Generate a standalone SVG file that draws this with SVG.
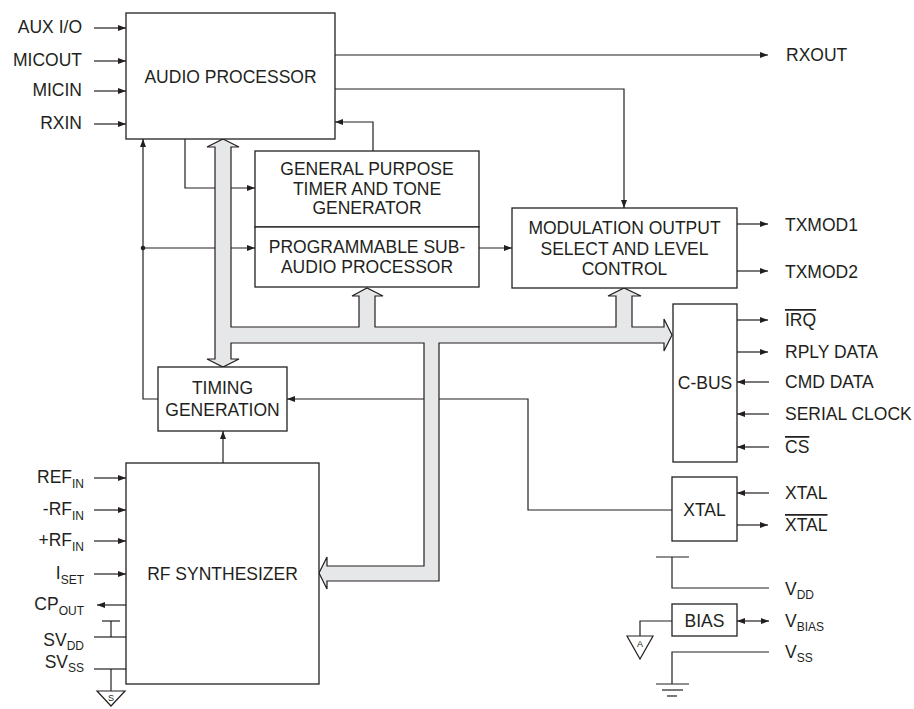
<svg xmlns="http://www.w3.org/2000/svg" width="914" height="709" viewBox="0 0 914 709">
<defs>
<style>
text{font-family:"Liberation Sans",Arial,Helvetica,sans-serif;font-size:17.5px;fill:#231f20}
.c{text-anchor:middle}
.e{text-anchor:end}
.sub{font-size:12px}
.tiny{font-size:9px}
.box{fill:#fff;stroke:#231f20;stroke-width:1.3}
.ln{fill:none;stroke:#231f20;stroke-width:1.2}
.arr{marker-end:url(#ah)}
.dbl{marker-end:url(#ah);marker-start:url(#ah)}
.bus{fill:#e6e7e8;stroke:#231f20;stroke-width:1.2;stroke-linejoin:miter}
.ol{text-decoration:overline}
</style>
<marker id="ah" markerUnits="userSpaceOnUse" markerWidth="9" markerHeight="7" refX="8" refY="3" orient="auto-start-reverse" viewBox="0 0 9 7">
<path d="M0,0 L8,3 L0,6 z" fill="#231f20"/>
</marker>
</defs>
<rect width="914" height="709" fill="#fff"/>

<g id="connectors">
<line class="ln arr" x1="94" y1="28" x2="126" y2="28"/>
<line class="ln arr" x1="94" y1="61" x2="126" y2="61"/>
<line class="ln arr" x1="94" y1="91" x2="126" y2="91"/>
<line class="ln arr" x1="94" y1="124" x2="126" y2="124"/>
<line class="ln arr" x1="335" y1="55" x2="768" y2="55"/>
<polyline class="ln arr" points="335,89 624,89 624,208"/>
<polyline class="ln arr" points="373,151 373,122 335,122"/>
<polyline class="ln arr" points="185,139 185,188 255,188"/>
<polyline class="ln arr" points="158,399 143,399 143,139"/>
<line class="ln arr" x1="143" y1="248" x2="255" y2="248"/>
<circle cx="143" cy="248" r="2.3" fill="#231f20"/>
<line class="ln arr" x1="479" y1="248" x2="512" y2="248"/>
<line class="ln arr" x1="737" y1="224" x2="768" y2="224"/>
<line class="ln arr" x1="737" y1="271" x2="768" y2="271"/>
<line class="ln arr" x1="737" y1="320" x2="768" y2="320"/>
<line class="ln arr" x1="737" y1="352" x2="768" y2="352"/>
<line class="ln arr" x1="769" y1="382" x2="737" y2="382"/>
<line class="ln arr" x1="769" y1="414" x2="737" y2="414"/>
<line class="ln arr" x1="769" y1="447" x2="737" y2="447"/>
<polyline class="ln arr" points="672,510 528,510 528,399 287,399"/>
<line class="ln arr" x1="769" y1="493" x2="737" y2="493"/>
<line class="ln arr" x1="737" y1="525" x2="768" y2="525"/>
<line class="ln arr" x1="223" y1="463" x2="223" y2="431"/>
<line class="ln arr" x1="94" y1="478" x2="126" y2="478"/>
<line class="ln arr" x1="94" y1="510" x2="126" y2="510"/>
<line class="ln arr" x1="94" y1="541" x2="126" y2="541"/>
<line class="ln arr" x1="94" y1="574" x2="126" y2="574"/>
<line class="ln arr" x1="126" y1="605" x2="97" y2="605"/>
<line class="ln" x1="94" y1="637" x2="126" y2="637"/>
<line class="ln" x1="111" y1="637" x2="111" y2="621"/>
<line class="ln" x1="102" y1="621" x2="120" y2="621"/>
<line class="ln" x1="94" y1="669" x2="126" y2="669"/>
<line class="ln" x1="111" y1="669" x2="111" y2="691"/>
<line class="ln" x1="656" y1="557" x2="689" y2="557"/>
<polyline class="ln" points="672,557 672,588 769,588"/>
<line class="ln dbl" x1="737" y1="621" x2="769" y2="621"/>
<polyline class="ln" points="672,621 640,621 640,636"/>
<polyline class="ln" points="769,652 672,652 672,684"/>
<path class="bus" d="M223,139 L239,147 L231,147 L231,327 L359,327 L359,296 L352,296 L367,288 L383,296 L375,296 L375,327 L616,327 L616,296 L608,296 L624,288 L641,296 L632,296 L632,327 L664,327 L664,319 L672,335 L664,351 L664,343 L439,343 L439,581 L327,581 L327,589 L319,573 L327,557 L327,566 L424,566 L424,343 L231,343 L231,359 L239,359 L223,367 L207,359 L215,359 L215,147 L207,147 Z"/>
</g>

<g id="ground-s">
<path class="ln" d="M97,691 L125,691 L111,706 Z"/>
<text x="111" y="701" class="c tiny">S</text>
</g>
<g id="ground-a">
<path class="ln" d="M627,636 L653,636 L640,659 Z"/>
<text x="640" y="647" class="c tiny">A</text>
</g>
<g id="ground-vss">
<line class="ln" x1="656" y1="684" x2="689" y2="684"/>
<line class="ln" x1="662" y1="690" x2="683" y2="690"/>
<line class="ln" x1="667" y1="696" x2="677" y2="696"/>
</g>

<g id="audio-processor">
<rect class="box" x="126" y="13" width="209" height="126"/>
<text x="230.5" y="83" class="c">AUDIO PROCESSOR</text>
</g>
<g id="gp-timer">
<rect class="box" x="255" y="151" width="224" height="76"/>
<text x="367" y="175" class="c">GENERAL PURPOSE</text>
<text x="367" y="195" class="c">TIMER AND TONE</text>
<text x="367" y="214" class="c">GENERATOR</text>
</g>
<g id="sub-audio">
<rect class="box" x="255" y="227" width="224" height="60"/>
<text x="367" y="253" class="c">PROGRAMMABLE SUB-</text>
<text x="367" y="273" class="c">AUDIO PROCESSOR</text>
</g>
<g id="modulation">
<rect class="box" x="512" y="208" width="225" height="80"/>
<text x="624.5" y="234" class="c">MODULATION OUTPUT</text>
<text x="624.5" y="255" class="c">SELECT AND LEVEL</text>
<text x="624.5" y="275" class="c">CONTROL</text>
</g>
<g id="c-bus">
<rect class="box" x="673" y="304" width="64" height="158"/>
<text x="705" y="389" class="c">C-BUS</text>
</g>
<g id="timing">
<rect class="box" x="158" y="367" width="129" height="64"/>
<text x="222.5" y="394" class="c">TIMING</text>
<text x="222.5" y="416" class="c">GENERATION</text>
</g>
<g id="rf-synth">
<rect class="box" x="126" y="463" width="193" height="221"/>
<text x="222.5" y="580" class="c">RF SYNTHESIZER</text>
</g>
<g id="xtal">
<rect class="box" x="672" y="477" width="65" height="64"/>
<text x="704.5" y="516" class="c">XTAL</text>
</g>
<g id="bias">
<rect class="box" x="672" y="604" width="65" height="32"/>
<text x="704.5" y="627" class="c">BIAS</text>
</g>

<g id="labels">
<text x="82" y="33" class="e">AUX I/O</text>
<text x="82" y="66" class="e">MICOUT</text>
<text x="82" y="96" class="e">MICIN</text>
<text x="82" y="129" class="e">RXIN</text>
<text x="786" y="61">RXOUT</text>
<text x="785" y="231">TXMOD1</text>
<text x="785" y="278">TXMOD2</text>
<text x="785" y="326" class="ol">IRQ</text>
<text x="785" y="358">RPLY DATA</text>
<text x="785" y="388">CMD DATA</text>
<text x="785" y="420">SERIAL CLOCK</text>
<text x="785" y="453" class="ol">CS</text>
<text x="785" y="499">XTAL</text>
<text x="785" y="531" class="ol">XTAL</text>
<text x="785" y="595">V<tspan class="sub" dy="4">DD</tspan></text>
<text x="785" y="627">V<tspan class="sub" dy="4">BIAS</tspan></text>
<text x="785" y="658">V<tspan class="sub" dy="4">SS</tspan></text>
<text x="84" y="483" class="e">REF<tspan class="sub" dy="5">IN</tspan></text>
<text x="84" y="515" class="e">-RF<tspan class="sub" dy="5">IN</tspan></text>
<text x="84" y="546" class="e">+RF<tspan class="sub" dy="5">IN</tspan></text>
<text x="84" y="579" class="e">I<tspan class="sub" dy="5">SET</tspan></text>
<text x="84" y="610" class="e">CP<tspan class="sub" dy="5">OUT</tspan></text>
<text x="84" y="646" class="e">SV<tspan class="sub" dy="4">DD</tspan></text>
<text x="84" y="668" class="e">SV<tspan class="sub" dy="4">SS</tspan></text>
</g>
</svg>
